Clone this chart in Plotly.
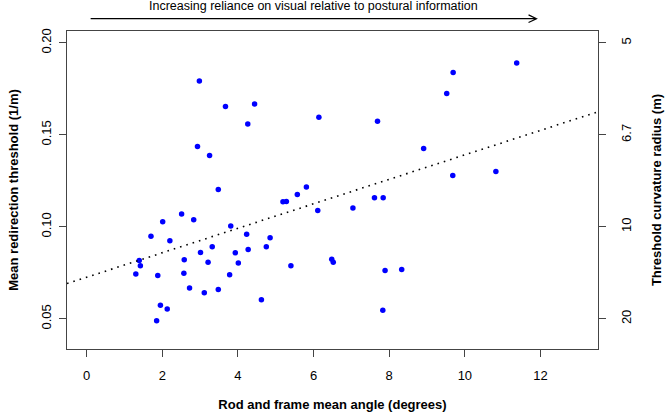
import plotly.graph_objects as go
import numpy as np

# rod and frame mean angle (degrees)
angle = [2.98, 3.67, 4.44, 4.26, 6.14, 2.93, 3.25, 3.48, 5.19, 5.28,
         5.57, 5.81, 6.11, 2.01, 2.51, 2.83, 3.81, 11.37, 9.69, 9.52,
         7.69, 8.91, 9.68, 10.82, 7.04, 7.61, 7.84, 1.70, 2.20, 4.23,
         4.85, 4.75, 4.27, 3.93, 3.32, 3.01, 1.39, 1.42, 1.30, 1.88,
         2.58, 2.57, 3.21, 4.01, 3.78, 2.72, 3.11, 3.48, 4.62, 5.40,
         1.95, 2.13, 1.85, 6.48, 6.52, 7.89, 8.33, 7.83]
# mean redirection threshold (1/m)
threshold = [0.1792, 0.1654, 0.1668, 0.1558, 0.1595, 0.1437, 0.1388, 0.1203, 0.1136, 0.1138,
             0.1176, 0.1216, 0.1089, 0.1028, 0.1069, 0.1038, 0.1005, 0.1890, 0.1839, 0.1725,
             0.1573, 0.1426, 0.1279, 0.1301, 0.1102, 0.1158, 0.1158, 0.0949, 0.0924, 0.0959,
             0.0940, 0.0891, 0.0877, 0.0859, 0.0891, 0.0861, 0.0817, 0.0788, 0.0743, 0.0736,
             0.0821, 0.0748, 0.0807, 0.0803, 0.0739, 0.0668, 0.0641, 0.0660, 0.0603, 0.0788,
             0.0574, 0.0554, 0.0489, 0.0824, 0.0808, 0.0763, 0.0768, 0.0546]

# fitted regression line (abline)
intercept = 0.0726
slope = 0.00665

x_ticks = [0, 2, 4, 6, 8, 10, 12]
y_ticks = [0.05, 0.10, 0.15, 0.20]
y_tick_text = ['0.05', '0.10', '0.15', '0.20']
radius = [5, 20 / 3, 10, 20]
radius_text = ['5', '6.7', '10', '20']

xlim = [0, 13]
ylim = [0.04, 0.20]
pad_x = (xlim[1] - xlim[0]) * 0.04
pad_y = (ylim[1] - ylim[0]) * 0.04
xr = [xlim[0] - pad_x, xlim[1] + pad_x]
yr = [ylim[0] - pad_y, ylim[1] + pad_y]

font = 'Liberation Sans, Arial, sans-serif'

fig = go.Figure()

line_x = np.array(xr)
fig.add_trace(go.Scatter(
    x=line_x, y=intercept + slope * line_x, mode='lines',
    line=dict(color='black', width=1.6, dash='1.6px,5px'),
    yaxis='y2', showlegend=False, hoverinfo='skip'))

fig.add_trace(go.Scatter(
    x=angle, y=threshold, mode='markers',
    marker=dict(color='#0000ff', size=5.5),
    showlegend=False))

axis_common = dict(showgrid=False, zeroline=False, showline=True,
                   linecolor='#444', linewidth=1, ticks='outside',
                   ticklen=7, tickcolor='#444', automargin=False,
                   tickfont=dict(family=font, size=13, color='black'))

# arrow above the plot
x0p = 0.0445
x1p = 0.8842
yp = 1.0387
fig.add_shape(type='path', xref='paper', yref='paper',
              path=f'M {x0p},{yp} L {x1p},{yp} M {x1p - 0.015},{yp + 0.012} '
                   f'L {x1p},{yp} L {x1p - 0.015},{yp - 0.012}',
              line=dict(color='black', width=1.2))
fig.add_annotation(text='Increasing reliance on visual relative to postural information',
                   xref='paper', yref='paper', x=(x0p + x1p) / 2, y=1.079,
                   showarrow=False, yanchor='middle',
                   font=dict(family=font, size=12.5, color='black'))

fig.update_layout(
    width=666, height=420,
    margin=dict(l=67, r=68, t=31, b=71),
    plot_bgcolor='white', paper_bgcolor='white',
    xaxis=dict(range=xr, tickvals=x_ticks, mirror=True, ticklabelstandoff=7,
               title=dict(text='<b>Rod and frame mean angle (degrees)</b>',
                          font=dict(family=font, size=13, color='black'),
                          standoff=18),
               **axis_common),
    yaxis=dict(range=yr, tickvals=y_ticks, ticktext=y_tick_text, tickangle=-90,
               ticklabelstandoff=3,
               title=dict(text='<b>Mean redirection threshold (1/m)</b>',
                          font=dict(family=font, size=13, color='black'),
                          standoff=17),
               **axis_common),
    yaxis2=dict(range=yr, overlaying='y', side='right',
                tickvals=[1 / r for r in radius], ticktext=radius_text, tickangle=-90,
                ticklabelstandoff=9,
                title=dict(text='<b>Threshold curvature radius (m)</b>',
                           font=dict(family=font, size=13, color='black'),
                           standoff=19),
                **axis_common),
)

fig.write_html("out.html", config={'displayModeBar': False},
               post_script="document.body.style.margin='0';")
